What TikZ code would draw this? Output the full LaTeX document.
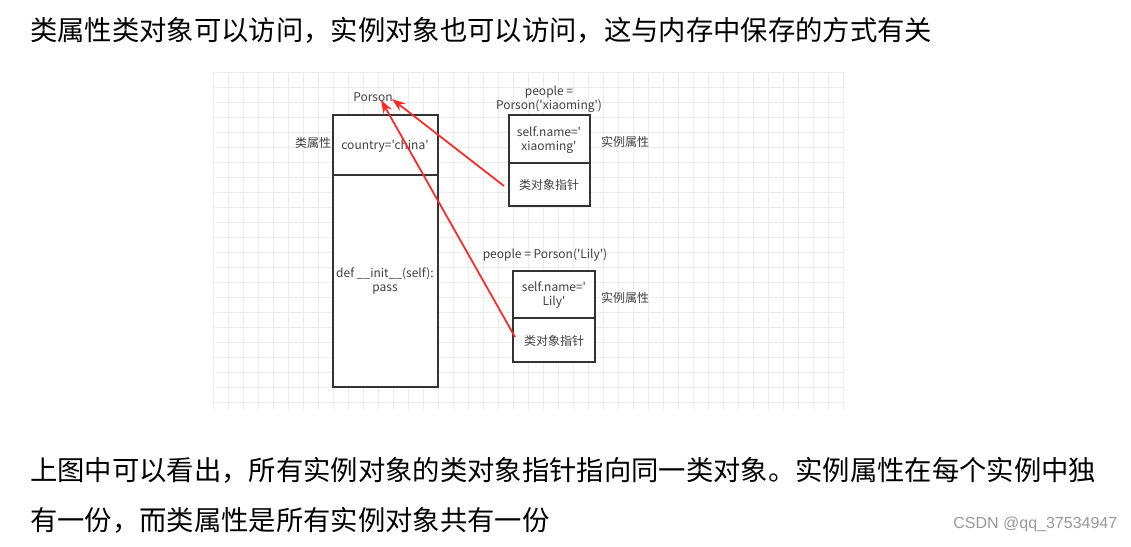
\documentclass[tikz,border=0pt]{standalone}
\usepackage{fontspec}
\usetikzlibrary{arrows.meta}
\setmainfont{Liberation Sans}
\newfontfamily\cjk{Noto Sans CJK SC}
\begin{document}
\begin{tikzpicture}[x=0.75pt,y=-0.75pt,
  bx/.style={draw=black!80,line width=1.3pt},
  sm/.style={font=\cjk\fontsize{9}{10.5}\selectfont,text=black!75,align=center,inner sep=0pt},
  big/.style={font=\cjk\fontsize{20.5}{24}\selectfont,anchor=west,inner sep=0pt},
  arr/.style={draw=red!85,line width=1.3pt,-{Stealth[length=10pt,width=7pt]}}]
\useasboundingbox (0,0) rectangle (1131,546);
\fill[white] (0,0) rectangle (1131,546);
\foreach \gx in {213,228,...,845} \draw[black!7] (\gx,72) -- (\gx,410);
\foreach \gy in {72,87,...,410} \draw[black!7] (213,\gy) -- (845,\gy);
\node[big] (t1) at (30,30) {类属性类对象可以访问，实例对象也可以访问，这与内存中保存的方式有关};
\node[big] (t2) at (30,470) {上图中可以看出，所有实例对象的类对象指针指向同一类对象。实例属性在每个实例中独};
\node[big] (t3) at (30,520) {有一份，而类属性是所有实例对象共有一份};
\node[font=\fontsize{12}{14}\selectfont,text=black!40,anchor=east] (wm) at (1122,524) {CSDN @qq\_37534947};
% class
\draw[bx,fill=white] (333,115) rectangle (438,387);
\draw[bx] (333,175) -- (438,175);
\node[sm] (porson) at (373,97) {Porson};
\node[sm] (lsx) at (313,143) {类属性};
\node[sm] (cty) at (385,146) {country='china'};
\node[sm] (def) at (385,281) {def \_\_init\_\_(self):\\pass};
% instance 1
\draw[bx,fill=white] (509,115) rectangle (590,206);
\draw[bx] (509,163) -- (590,163);
\node[sm] (p1) at (549,99) {people =\\Porson('xiaoming')};
\node[sm] (n1) at (549,140) {self.name='\\xiaoming'};
\node[sm] (ptr1) at (549,185) {类对象指针};
\node[sm] (s1) at (625,142) {实例属性};
% instance 2
\draw[bx,fill=white] (513,271) rectangle (595,362);
\draw[bx] (513,318) -- (595,318);
\node[sm] (p2) at (545,255) {people = Porson('Lily')};
\node[sm] (n2) at (554,295) {self.name='\\Lily'};
\node[sm] (ptr2) at (554,341) {类对象指针};
\node[sm] (s2) at (625,298) {实例属性};
\coordinate (a1) at (504,186);
\coordinate (a2) at (515,337);
\coordinate (e1) at (392,99);
\coordinate (e2) at (381,100);
\draw[arr] (a1) -- (e1);
\draw[arr] (a2) -- (e2);
\end{tikzpicture}
\end{document}
